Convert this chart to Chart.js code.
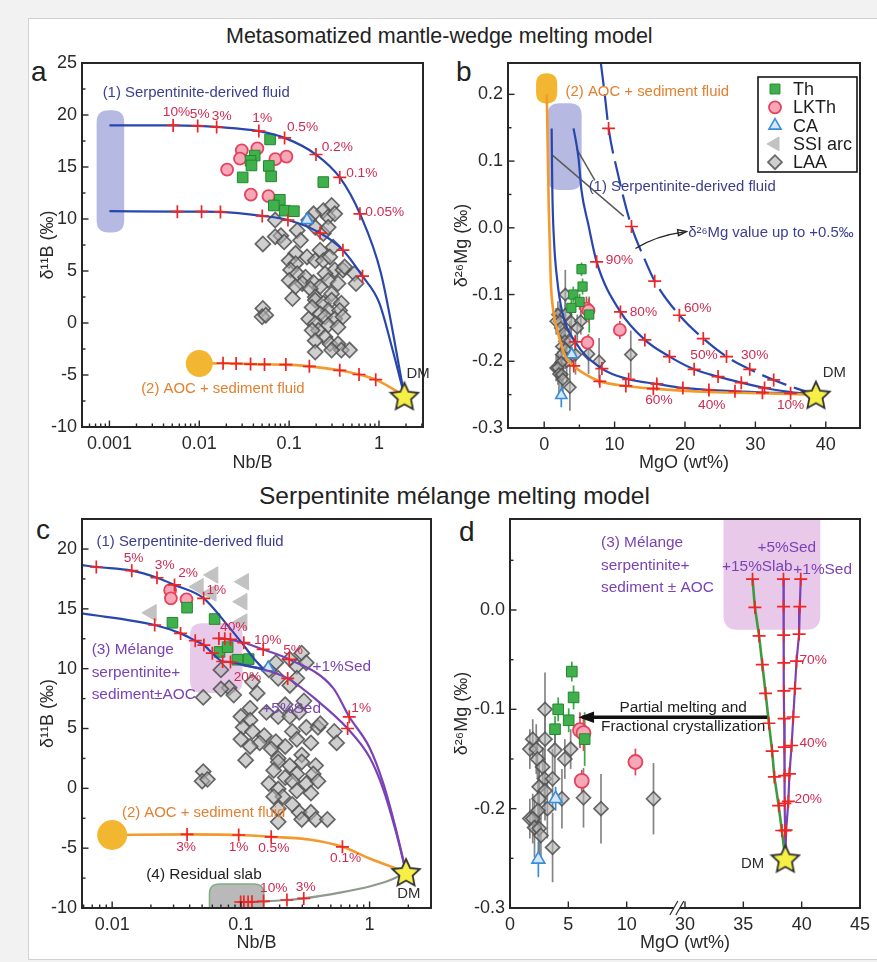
<!DOCTYPE html>
<html>
<head>
<meta charset="utf-8">
<script src="https://cdn.jsdelivr.net/npm/chart.js@4.4.0/dist/chart.umd.min.js"></script>
<style>
  body { margin:0; width:877px; height:962px; overflow:hidden; background:#f2f2f2; position:relative; font-family:"Liberation Sans", Arial, sans-serif; }
  #sheet { position:absolute; left:28px; top:18px; width:880px; height:940px; background:#fff; border:1px solid #d2d2d2; }
  canvas { position:absolute; }
  .ttl { position:absolute; color:#222; white-space:nowrap; line-height:1; }
  .let { position:absolute; font-size:28px; line-height:28px; color:#222; }
</style>
</head>
<body>
<div id="sheet"></div>
<div class="ttl" style="left:226px;top:26px;font-size:21.5px">Metasomatized mantle-wedge melting model</div>
<div class="ttl" style="left:259px;top:484px;font-size:24.5px">Serpentinite mélange melting model</div>
<div class="let" style="left:31px;top:58px">a</div>
<div class="let" style="left:456px;top:58px">b</div>
<div class="let" style="left:36px;top:516px">c</div>
<div class="let" style="left:459px;top:518px">d</div>
<canvas id="cA" width="412" height="440" style="left:28px;top:40px"></canvas>
<canvas id="cB" width="437" height="440" style="left:440px;top:40px"></canvas>
<canvas id="cC" width="420" height="482" style="left:28px;top:480px"></canvas>
<canvas id="cD" width="437" height="482" style="left:440px;top:480px"></canvas>
<script>
// ---------- data: Nb/B vs d11B (panels a and c) ----------
const DM_NBB = 1.92, DM_D11B = -7.0;
const DM_MGO = 38.6, DM_D26 = -0.25;

const laaB = [
  [0.297,11.3],[0.240,10.8],[0.187,10.5],[0.272,10.2],[0.322,10.5],[0.165,9.9],[0.070,9.9],
  [0.081,8.4],[0.070,8.3],[0.123,8.9],[0.195,9.2],[0.240,8.6],[0.272,9.2],[0.134,7.95],
  [0.051,7.6],[0.088,7.8],[0.309,7.3],[0.221,7.0],[0.158,6.35],[0.118,6.7],[0.100,6.0],
  [0.195,6.0],[0.240,6.0],[0.284,6.35],[0.118,5.7],[0.104,5.1],[0.322,5.1],[0.397,5.1],
  [0.251,4.75],[0.532,4.75],[0.414,5.4],[0.123,4.75],[0.152,4.4],[0.100,4.1],[0.140,3.8],
  [0.187,3.9],[0.272,4.1],[0.350,3.8],[0.555,3.8],[0.221,3.5],[0.172,3.3],[0.118,3.5],
  [0.195,2.5],[0.297,2.8],[0.109,2.35],[0.195,2.2],[0.240,1.9],[0.297,2.2],[0.381,1.9],
  [0.180,1.5],[0.272,1.2],[0.365,1.2],[0.221,0.9],[0.051,1.4],[0.050,0.6],[0.055,0.75],
  [0.165,0.4],[0.195,-0.06],[0.251,0.6],[0.322,0.4],[0.397,0.6],[0.272,-0.2],[0.212,-0.7],
  [0.350,-0.4],[0.180,-0.7],[0.251,-1.35],[0.195,-1.7],[0.284,-2.0],[0.350,-2.0],
  [0.195,-2.8],[0.381,-2.6],[0.470,-2.6],[0.297,-2.6]
];
const thA = [[0.0614,17.65],[0.0414,16.1],[0.0372,15.6],[0.0381,15.15],[0.0594,15.1],[0.0304,14.0],
  [0.063,14.1],[0.24,13.55],[0.0788,11.85],[0.0675,11.3],[0.0896,10.8],[0.113,10.75]];
const lkthA = [[0.0204,14.75],[0.0297,16.6],[0.0284,15.8],[0.0443,16.8],[0.0702,15.75],[0.0933,16.0],
  [0.0375,12.35],[0.0589,12.2]];
const caA = [[0.158,9.9]];
const thC = [[0.0294,13.84],[0.0382,15.1],[0.0625,14.15],[0.0683,11.4],[0.0789,11.8],[0.094,10.75],[0.115,10.8]];
const lkthC = [[0.0282,16.57],[0.0286,15.88],[0.0378,15.8]];
const caC = [[0.163,10.1]];
const ssiC = [[0.0202,14.67],[0.0468,16.85],[0.0608,17.83],[0.1054,17.27],[0.0589,16.32],[0.1024,15.6],[0.1024,13.9]];

// model curves, panel a
const aSerpHi = [[0.001,19.0],[0.00512,19.0],[0.0096,18.95],[0.0156,18.85],[0.046,18.45],[0.089,17.8],
  [0.199,16.2],[0.366,14.0],[0.614,10.5],[1.05,4.8],[DM_NBB,DM_D11B]];
const aSerpLo = [[0.001,10.75],[0.0057,10.7],[0.0106,10.7],[0.0172,10.68],[0.0502,10.3],[0.097,9.9],
  [0.221,8.65],[0.397,7.0],[0.656,4.5],[1.0,2.0],[1.4,-2.4],[DM_NBB,DM_D11B]];
const aAoc = [[0.01,-3.9],[0.0184,-3.87],[0.0257,-3.9],[0.0372,-3.95],[0.0532,-3.98],[0.092,-4.0],
  [0.168,-4.17],[0.366,-4.55],[0.60,-4.95],[0.92,-5.45],[DM_NBB,DM_D11B]];

// model curves, panel c
const cSerpHi = [[0.0058,18.66],[0.00753,18.5],[0.0142,18.19],[0.0223,17.6],[0.0305,17.0],[0.0514,15.88],
  [0.0766,13.79],[0.1025,12.11],[0.129,10.72],[0.149,10.0]];
const cSerpHiX = [[0.00753,18.5],[0.0142,18.19],[0.0223,17.6],[0.0305,17.0],[0.0514,15.88]];
const cSerpLo = [[0.0058,14.62],[0.0214,13.65],[0.034,12.95],[0.0442,12.34],[0.0516,11.97],[0.06,11.3],
  [0.0722,10.6],[0.083,10.55],[0.105,10.3],[0.149,9.95]];
const cSed1 = [[0.0675,12.53],[0.08,12.45],[0.1054,12.17],[0.149,11.61],[0.2375,10.78],[0.52,8.4],
  [0.695,5.98],[1.0,3.4],[1.27,0.5],[1.6,-3.4],[DM_NBB,DM_D11B]];
const cSed1X = [[0.0675,12.53],[0.075,12.5],[0.083,12.45],[0.1054,12.17],[0.149,11.61],[0.2375,10.78],[0.695,5.98]];
const cSed5 = [[0.105,10.3],[0.149,9.95],[0.231,9.19],[0.389,7.37],[0.675,5.0],[1.0,2.6],[1.27,0.0],
  [1.6,-3.6],[DM_NBB,DM_D11B]];
const cSed5X = [[0.231,9.19],[0.675,5.0]];
const cAoc = [[0.01,-3.9],[0.0382,-3.85],[0.0962,-3.9],[0.172,-4.05],[0.35,-4.3],[0.615,-4.89],[1.0,-5.86],[DM_NBB,DM_D11B]];
const cAocX = [[0.0382,-3.85],[0.0962,-3.9],[0.172,-4.05],[0.615,-4.89]];
const cSlab = [[0.1,-9.5],[0.15,-9.44],[0.228,-9.33],[0.308,-9.2],[0.6,-8.7],[1.0,-8.2],[1.5,-7.6],[DM_NBB,DM_D11B]];
const cSlabX = [[0.0996,-9.5],[0.1055,-9.5],[0.1138,-9.49],[0.122,-9.48],[0.15,-9.44],[0.228,-9.33],[0.308,-9.2]];

// ---------- data: MgO vs d26Mg (panels b and d), rows = [MgO, d26Mg, 2sd] ----------
const thMg = [[5.3,-0.062,0.01],[5.45,-0.088,0.012],[4.13,-0.1,0.012],[5.03,-0.111,0.012],[3.86,-0.12,0.013],[6.4,-0.13,0.027]];
const lkthMg = [[6.0,-0.121,0.018],[6.3,-0.124,0.018],[6.15,-0.172,0.011],[10.75,-0.153,0.0135]];
const caMg = [[3.91,-0.19,0.012],[2.43,-0.251,0.018]];
const laaMg = [
  [3.0,-0.100,0.037],[1.95,-0.130,0.02],[3.0,-0.130,0.025],[1.7,-0.140,0.02],[2.25,-0.140,0.025],
  [3.85,-0.141,0.025],[5.2,-0.140,0.02],[2.35,-0.150,0.02],[4.7,-0.150,0.02],[2.8,-0.158,0.02],
  [2.95,-0.170,0.03],[3.65,-0.170,0.03],[2.5,-0.178,0.025],[3.0,-0.182,0.03],[2.5,-0.190,0.03],
  [4.45,-0.190,0.03],[6.3,-0.189,0.03],[12.3,-0.190,0.036],[7.8,-0.200,0.035],[3.2,-0.200,0.03],
  [2.4,-0.202,0.03],[1.7,-0.210,0.02],[1.95,-0.210,0.025],[2.1,-0.219,0.03],[2.5,-0.220,0.03],
  [2.65,-0.227,0.025],[3.65,-0.239,0.035]
];

// model curves, panel b
const bOrange = [[0.37,0.2],[0.5,0.12],[0.65,0.03],[0.93,-0.078],[1.3,-0.125],[1.85,-0.153],[3.0,-0.193],
  [4.2,-0.207],[5.3,-0.216],[7.9,-0.23],[11.6,-0.237],[15.5,-0.241],[19.5,-0.244],[23.3,-0.246],
  [27.2,-0.247],[31,-0.248],[35,-0.249],[DM_MGO,DM_D26]];
const bOrangeX = [[4.2,-0.207],[7.9,-0.23],[11.6,-0.237],[15.5,-0.241]];
const bSerp1 = [[1.06,0.149],[1.15,0.06],[1.39,-0.018],[1.85,-0.078],[2.6,-0.128],[4.4,-0.171],[8.2,-0.211],
  [12.0,-0.227],[16.0,-0.234],[19.7,-0.24],[23.4,-0.243],[27.1,-0.245],[31,-0.247],[35,-0.248],[DM_MGO,DM_D26]];
const bSerp1X = [[4.4,-0.171],[8.2,-0.211],[12.0,-0.227],[16.0,-0.234],[19.7,-0.24],[23.4,-0.243],[27.1,-0.245],[31,-0.247],[35,-0.248]];
const bSerp2 = [[4.17,0.149],[4.86,0.106],[5.3,0.056],[6.25,0.006],[7.45,-0.051],[10.83,-0.126],[14.3,-0.168],
  [17.8,-0.193],[21.3,-0.212],[24.7,-0.223],[28.0,-0.232],[31.3,-0.24],[35,-0.246],[DM_MGO,DM_D26]];
const bSerp2X = [[7.45,-0.051],[10.83,-0.126],[14.3,-0.168],[17.8,-0.193],[21.3,-0.212],[24.7,-0.223],[28.0,-0.232],[31.3,-0.24]];
const bHeavy = [[8.0,0.251],[8.6,0.2],[9.15,0.149],[10.4,0.084],[12.4,0.002],[14.1,-0.043],[15.7,-0.08],
  [19.2,-0.131],[22.6,-0.166],[25.9,-0.193],[29.2,-0.212],[32.6,-0.228],[35.9,-0.241],[DM_MGO,DM_D26]];
const bHeavyX = [[9.15,0.149],[12.4,0.002],[15.7,-0.08],[19.2,-0.131],[22.6,-0.166],[25.9,-0.193],[29.2,-0.212],[32.6,-0.228]];
const bLeader1 = [[1.16,0.109],[11.3,0.0175]];
const bLeader2 = [[4.58,0.119],[7.2,0.071]];

// model curves, panel d
const dSlab15 = [[35.79,0.031],[35.99,0.0027],[36.35,-0.026],[36.63,-0.055],[36.91,-0.084],[37.19,-0.114],
  [37.47,-0.142],[37.66,-0.168],[38.03,-0.197],[38.30,-0.222],[DM_MGO,DM_D26]];
const dSed5 = [[38.44,0.031],[38.45,0.0034],[38.46,-0.0253],[38.47,-0.0532],[38.48,-0.0815],[38.5,-0.1094],
  [38.52,-0.138],[38.54,-0.1667],[38.56,-0.1946],[38.58,-0.2222],[DM_MGO,DM_D26]];
const dSed1 = [[39.92,0.031],[39.84,0.0034],[39.78,-0.0242],[39.56,-0.0515],[39.42,-0.0791],[39.28,-0.1077],
  [39.14,-0.1364],[38.95,-0.165],[38.86,-0.1926],[38.67,-0.2215],[DM_MGO,DM_D26]];

// ---------- ticks ----------
const A_XTICKS = [0.001, 0.01, 0.1, 1];
const C_XTICKS = [0.01, 0.1, 1];
const B11_A_YTICKS = [-10, -5, 0, 5, 10, 15, 20, 25];
const B11_C_YTICKS = [-10, -5, 0, 5, 10, 15, 20];
const MG_YTICKS_B = [-0.3, -0.2, -0.1, 0, 0.1, 0.2];
const MG_YTICKS_D = [-0.3, -0.2, -0.1, 0];
const B_XTICKS = [0, 10, 20, 30, 40];
const D_XTICKS = [0, 5, 10, 15, 20, 25, 30];
const D_XLABELS = ['0', '5', '10', '30', '35', '40', '45'];

// ---------- styles ----------
const REG = '"Liberation Sans", Arial, sans-serif';
function hasFont(f) {
  const g = document.createElement('canvas').getContext('2d');
  g.font = '20px monospace'; const w0 = g.measureText('mmmmmiiiiiWW').width;
  g.font = '20px "' + f + '", monospace'; return g.measureText('mmmmmiiiiiWW').width !== w0;
}
const NARROW = hasFont('Liberation Sans Narrow');
const nfont = px => (NARROW ? px : Math.round(px * 0.83 * 10) / 10) + 'px ' + (NARROW ? '"Liberation Sans Narrow", ' : '') + REG;
const STY = {
  pct: { font: nfont(16.5), color: '#cf2a52' },
  navy: { font: nfont(18), color: '#3b3f8e' },
  orange: { font: nfont(18), color: '#e3802f' },
  purple: { font: nfont(18.5), color: '#7b42b5' },
  black: { font: nfont(18.5), color: '#1e1e1e' },
  dark: { font: nfont(18), color: '#2e2e2e' }
};
const BLUE = '#2846ad', ORANGE = '#f29a2e', PURPLE = '#7a42b6', RED = '#ef2424';
const TH_ST = { label: 'Th', pointStyle: 'rect', pointBackgroundColor: '#3fb04b', pointBorderColor: '#22882f', pointBorderWidth: 1, errColor: '#3aa845', lr: 7 };
const LKTH_ST = { label: 'LKTh', pointStyle: 'circle', pointBackgroundColor: '#f6a8b8', pointBorderColor: '#e6425d', pointBorderWidth: 1.8, errColor: '#e6425d', lr: 6 };
const CA_ST = { label: 'CA', pointStyle: 'triangle', pointBackgroundColor: '#d5e7f7', pointBorderColor: '#3a8ddb', pointBorderWidth: 1.6, errColor: '#3a8ddb', lr: 7 };
const SSI_ST = { label: 'SSI arc', pointStyle: 'triangle', pointRotation: -90, pointBackgroundColor: '#c2c2c2', pointBorderColor: '#c2c2c2', pointBorderWidth: 1, lr: 8 };
const LAA_ST = { label: 'LAA', pointStyle: 'rectRot', pointBackgroundColor: 'rgba(175,175,175,0.6)', pointBorderColor: 'rgba(80,80,80,0.85)', pointBorderWidth: 1.7, errColor: 'rgba(120,120,120,0.9)', lr: 7 };

function makeStar(size) {
  const c = document.createElement('canvas'); c.width = c.height = size;
  const g = c.getContext('2d'), R = size / 2 - 1.5, r = R * 0.48, cx = size / 2, cy = size / 2 + 1.5;
  g.beginPath();
  for (let i = 0; i < 10; i++) {
    const a = -Math.PI / 2 + i * Math.PI / 5, rr = i % 2 ? r : R;
    g.lineTo(cx + rr * Math.cos(a), cy + rr * Math.sin(a));
  }
  g.closePath(); g.fillStyle = '#f5ef46'; g.fill(); g.lineWidth = 1.8; g.strokeStyle = '#333'; g.stroke();
  return c;
}
const STAR = makeStar(32);

const id = v => v;
const dX = v => (v > 20 ? v - 15 : v);   // broken MgO axis in panel d
const xy = (rows, tx = id) => rows.map(r => ({ x: tx(r[0]), y: r[1] }));

const curve = (rows, color, extra = {}, tx = id) => Object.assign({
  data: xy(rows, tx), showLine: true, borderColor: color, borderWidth: 2.2, pointRadius: 0,
  cubicInterpolationMode: 'monotone', order: 2
}, extra);
const crosses = (rows, tx = id) => ({
  data: xy(rows, tx), pointStyle: 'cross', pointRadius: 6.5, pointBorderColor: RED, pointBorderWidth: 1.7, order: 1
});
const pts = (rows, st, r, order, tx = id) => Object.assign({}, st, {
  data: xy(rows, tx), pointRadius: r, order: order,
  errs: rows[0].length > 2 ? rows.map(q => q[2]) : null
});
const star = (x, y) => ({ data: [{ x, y }], pointStyle: STAR, pointRadius: 16, order: 0 });
const disc = (x, y, r) => ({ data: [{ x, y }], pointStyle: 'circle', pointRadius: r, pointBackgroundColor: '#f3b630', pointBorderColor: '#f3b630', pointBorderWidth: 0, order: 1.5 });

const mids = t => t.slice(1).map((v, i) => (v + t[i]) / 2);
function logMinor(min, max) {
  const out = [];
  for (let e = -4; e <= 1; e++) for (let k = 2; k <= 9; k++) {
    const v = k * Math.pow(10, e);
    if (v > min && v < max) out.push(v);
  }
  return out;
}

function rrect(ctx, x, y, w, h, r) {
  r = Math.min(r, w / 2, h / 2);
  ctx.beginPath();
  ctx.moveTo(x + r, y); ctx.lineTo(x + w - r, y); ctx.quadraticCurveTo(x + w, y, x + w, y + r);
  ctx.lineTo(x + w, y + h - r); ctx.quadraticCurveTo(x + w, y + h, x + w - r, y + h);
  ctx.lineTo(x + r, y + h); ctx.quadraticCurveTo(x, y + h, x, y + h - r);
  ctx.lineTo(x, y + r); ctx.quadraticCurveTo(x, y, x + r, y); ctx.closePath();
}

// fields, error bars, frame, inner ticks, text and legend
const deco = {
  id: 'deco',
  beforeDatasetsDraw(chart, args, o) {
    const { ctx, chartArea: ca, scales: { x, y } } = chart;
    const tx = o.tx || id;
    ctx.save();
    ctx.beginPath(); ctx.rect(ca.left, ca.top, ca.width, ca.height); ctx.clip();
    (o.regions || []).forEach(r => {
      const x0 = x.getPixelForValue(tx(r.x0)), x1 = x.getPixelForValue(tx(r.x1));
      const y0 = y.getPixelForValue(r.y1), y1 = y.getPixelForValue(r.y0);
      rrect(ctx, x0, y0, x1 - x0, y1 - y0, r.r);
      ctx.fillStyle = r.fill; ctx.fill();
      if (r.stroke) { ctx.strokeStyle = r.stroke; ctx.lineWidth = 1.5; ctx.stroke(); }
    });
    chart.data.datasets.forEach(ds => {
      if (!ds.errs) return;
      ctx.strokeStyle = ds.errColor; ctx.lineWidth = 1.7;
      ds.data.forEach((p, j) => {
        const px = x.getPixelForValue(p.x);
        ctx.beginPath();
        ctx.moveTo(px, y.getPixelForValue(p.y - ds.errs[j]));
        ctx.lineTo(px, y.getPixelForValue(p.y + ds.errs[j]));
        ctx.stroke();
      });
    });
    ctx.restore();
  },
  afterDatasetsDraw(chart, args, o) {
    const { ctx, chartArea: ca, scales: { x, y } } = chart;
    const tx = o.tx || id;
    ctx.save();
    (o.arrows || []).forEach(a => {
      const p = a.pts.map(q => [x.getPixelForValue(tx(q[0])), y.getPixelForValue(q[1])]);
      ctx.strokeStyle = a.color; ctx.fillStyle = a.color; ctx.lineWidth = a.w;
      ctx.beginPath(); ctx.moveTo(p[0][0], p[0][1]);
      if (p.length === 3) ctx.quadraticCurveTo(p[1][0], p[1][1], p[2][0], p[2][1]);
      else ctx.lineTo(p[1][0], p[1][1]);
      ctx.stroke();
      const e = p[p.length - 1], s = p[p.length - 2];
      const ang = Math.atan2(e[1] - s[1], e[0] - s[0]);
      ctx.beginPath();
      ctx.moveTo(e[0] + Math.cos(ang) * a.head * 0.3, e[1] + Math.sin(ang) * a.head * 0.3);
      ctx.lineTo(e[0] - Math.cos(ang - 0.45) * a.head, e[1] - Math.sin(ang - 0.45) * a.head);
      ctx.lineTo(e[0] - Math.cos(ang + 0.45) * a.head, e[1] - Math.sin(ang + 0.45) * a.head);
      ctx.closePath();
      if (a.open) ctx.stroke(); else ctx.fill();
    });
    ctx.strokeStyle = '#262626'; ctx.lineWidth = 2;
    ctx.strokeRect(ca.left, ca.top, ca.width, ca.height);
    ctx.lineWidth = 1.4;
    [[o.xMajor, 6.5], [o.xMinor, 3.5]].forEach(([vals, len]) => (vals || []).forEach(v => {
      const px = x.getPixelForValue(v);
      ctx.beginPath(); ctx.moveTo(px, ca.bottom); ctx.lineTo(px, ca.bottom - len); ctx.stroke();
    }));
    [[o.yMajor, 6.5], [o.yMinor, 3.5]].forEach(([vals, len]) => (vals || []).forEach(v => {
      const py = y.getPixelForValue(v);
      ctx.beginPath(); ctx.moveTo(ca.left, py); ctx.lineTo(ca.left + len, py); ctx.stroke();
    }));
    if (o.xBreak !== undefined) {
      const bx = x.getPixelForValue(o.xBreak);
      ctx.fillStyle = '#fff'; ctx.fillRect(bx - 3, ca.bottom - 2, 6, 4);
      ctx.strokeStyle = '#2a2a2a'; ctx.lineWidth = 1.2;
      [-3, 3].forEach(d => {
        ctx.beginPath(); ctx.moveTo(bx + d - 4, ca.bottom + 7); ctx.lineTo(bx + d + 4, ca.bottom - 7); ctx.stroke();
      });
    }
    (o.labels || []).forEach(([t, lx, ly, st, al]) => {
      const s = STY[st];
      ctx.font = s.font; ctx.fillStyle = s.color;
      ctx.textAlign = al === 'l' ? 'left' : 'center'; ctx.textBaseline = 'middle';
      ctx.fillText(t, x.getPixelForValue(tx(lx)), y.getPixelForValue(ly));
    });
    if (o.legend) {
      const L = o.legend, bx = ca.left + L.dx, by = ca.top + L.dy;
      ctx.fillStyle = '#fff'; ctx.fillRect(bx, by, L.w, L.h);
      ctx.strokeStyle = '#151515'; ctx.lineWidth = 1.6; ctx.strokeRect(bx, by, L.w, L.h);
      L.items.forEach((it, i) => {
        const cy = by + L.y0 + i * L.step;
        ctx.fillStyle = it.pointBackgroundColor; ctx.strokeStyle = it.pointBorderColor; ctx.lineWidth = it.pointBorderWidth;
        Chart.helpers.drawPoint(ctx, { pointStyle: it.pointStyle, radius: it.lr, rotation: it.pointRotation || 0, borderWidth: it.pointBorderWidth }, bx + L.mx, cy);
        ctx.fillStyle = '#1e1e1e'; ctx.font = '18px ' + REG; ctx.textAlign = 'left'; ctx.textBaseline = 'middle';
        ctx.fillText(it.label, bx + L.tx, cy + 1);
      });
    }
    ctx.restore();
  }
};

function panel(elId, cfg) {
  const zeroPad = s => { s.paddingLeft = s.paddingRight = s.paddingTop = s.paddingBottom = 0; };
  const tickFont = { family: REG, size: 18 };
  return new Chart(document.getElementById(elId), {
    type: 'scatter',
    data: { datasets: cfg.datasets },
    options: {
      responsive: false, animation: false, devicePixelRatio: 1, events: [],
      layout: { padding: { left: 0, top: cfg.padTop, right: cfg.padRight, bottom: 0 } },
      plugins: { legend: { display: false }, tooltip: { enabled: false }, deco: cfg.deco },
      scales: {
        x: {
          type: cfg.xType, min: cfg.xMin, max: cfg.xMax,
          afterBuildTicks: s => { s.ticks = cfg.xTicks.map(v => ({ value: v })); },
          afterFit: s => { s.height = cfg.xH; zeroPad(s); },
          grid: { display: false, drawTicks: false }, border: { display: false },
          ticks: { font: tickFont, color: '#2a2a2a', padding: 6, maxRotation: 0, autoSkip: false, callback: cfg.xFmt },
          title: { display: true, text: cfg.xTitle, font: { family: REG, size: 18 }, color: '#2a2a2a', padding: { top: 0, bottom: cfg.xTitlePad } }
        },
        y: {
          type: 'linear', min: cfg.yMin, max: cfg.yMax,
          afterBuildTicks: s => { s.ticks = cfg.yTicks.map(v => ({ value: v })); },
          afterFit: s => { s.width = cfg.yW; zeroPad(s); },
          grid: { display: false, drawTicks: false }, border: { display: false },
          ticks: { font: tickFont, color: '#2a2a2a', padding: 5, autoSkip: false, callback: cfg.yFmt },
          title: { display: true, text: cfg.yTitle, font: { family: REG, size: 18 }, color: '#2a2a2a', padding: { top: cfg.yTitlePad, bottom: 0 } }
        }
      }
    },
    plugins: [deco]
  });
}

const fmtPlain = v => String(v);
const fmt1 = v => (Math.abs(v) < 1e-9 ? '0.0' : v.toFixed(1));

// ---------- panel a ----------
const A_XMIN = 0.000495, A_XMAX = 3.09;
panel('cA', {
  xType: 'logarithmic', xMin: A_XMIN, xMax: A_XMAX, xTicks: A_XTICKS, xFmt: fmtPlain,
  yMin: -10, yMax: 25, yTicks: B11_A_YTICKS, yFmt: fmtPlain,
  padTop: 23, padRight: 10, yW: 54, xH: 53, xTitlePad: 6, yTitlePad: 9,
  xTitle: 'Nb/B', yTitle: 'δ¹¹B (‰)',
  datasets: [
    star(DM_NBB, DM_D11B),
    crosses(aSerpHi.slice(1, -2)), crosses(aSerpLo.slice(1, -3)), crosses(aAoc.slice(1, -1)),
    curve(aSerpHi, BLUE), curve(aSerpLo, BLUE), curve(aAoc, ORANGE, { borderWidth: 2.6 }),
    disc(0.01, -3.9, 13.5),
    pts(caA, CA_ST, 7, 3), pts(thA, TH_ST, 7.5, 4), pts(lkthA, LKTH_ST, 6, 5), pts(laaB, LAA_ST, 7.5, 6)
  ],
  deco: {
    regions: [{ x0: 0.00072, x1: 0.00146, y0: 8.7, y1: 20.45, r: 12, fill: '#b6bae3' }],
    xMajor: A_XTICKS, xMinor: logMinor(A_XMIN, A_XMAX), yMajor: B11_A_YTICKS, yMinor: mids(B11_A_YTICKS),
    labels: [
      ['(1) Serpentinite-derived fluid', 0.00084, 22.1, 'navy', 'l'],
      ['10%', 0.00558, 20.3, 'pct'], ['5%', 0.0101, 20.07, 'pct'], ['3%', 0.01775, 19.87, 'pct'],
      ['1%', 0.0502, 19.65, 'pct'], ['0.5%', 0.141, 18.8, 'pct'], ['0.2%', 0.343, 16.9, 'pct'],
      ['0.1%', 0.643, 14.4, 'pct'], ['0.05%', 1.16, 10.64, 'pct'],
      ['(2) AOC + sediment fluid', 0.0183, -6.31, 'orange'],
      ['DM', 2.72, -4.87, 'dark']
    ]
  }
});

// ---------- panel b ----------
panel('cB', {
  xType: 'linear', xMin: -5.14, xMax: 44.86, xTicks: B_XTICKS, xFmt: fmtPlain,
  yMin: -0.3, yMax: 0.247, yTicks: MG_YTICKS_B, yFmt: fmt1,
  padTop: 23, padRight: 9, yW: 68, xH: 52, xTitlePad: 6, yTitlePad: 11,
  xTitle: 'MgO (wt%)', yTitle: 'δ²⁶Mg (‰)',
  datasets: [
    star(DM_MGO, DM_D26),
    crosses(bOrangeX), crosses(bSerp1X), crosses(bSerp2X), crosses(bHeavyX),
    curve(bOrange, ORANGE, { borderWidth: 2.6 }), curve(bSerp1, BLUE), curve(bSerp2, BLUE),
    curve(bHeavy, BLUE, { borderDash: [26, 8] }),
    curve(bLeader1, '#5a5a5a', { borderWidth: 1.5, cubicInterpolationMode: 'default', tension: 0, order: 3 }),
    curve(bLeader2, '#5a5a5a', { borderWidth: 1.5, cubicInterpolationMode: 'default', tension: 0, order: 3 }),
    pts(caMg, CA_ST, 6.5, 3), pts(thMg, TH_ST, 6.5, 4), pts(lkthMg, LKTH_ST, 6, 5), pts(laaMg, LAA_ST, 6, 6)
  ],
  deco: {
    regions: [
      { x0: 0.46, x1: 5.32, y0: 0.0565, y1: 0.1865, r: 12, fill: '#b6bae3' },
      { x0: -1.15, x1: 1.85, y0: 0.1865, y1: 0.2315, r: 11, fill: '#f3b630' }
    ],
    xMajor: B_XTICKS, xMinor: mids(B_XTICKS), yMajor: MG_YTICKS_B, yMinor: mids(MG_YTICKS_B),
    arrows: [{ pts: [[12.96, -0.031], [15.8, -0.012], [19.9, -0.006]], color: '#222', w: 1.4, head: 7, open: true }],
    labels: [
      ['(2) AOC + sediment fluid', 14.65, 0.2034, 'orange'],
      ['(1) Serpentinite-derived fluid', 19.6, 0.061, 'navy'],
      ['δ²⁶Mg value up to +0.5‰', 32.2, -0.008, 'navy'],
      ['90%', 10.7, -0.048, 'pct'], ['80%', 14.1, -0.127, 'pct'], ['60%', 21.8, -0.121, 'pct'],
      ['50%', 22.7, -0.191, 'pct'], ['30%', 29.9, -0.191, 'pct'], ['60%', 16.3, -0.258, 'pct'],
      ['40%', 23.8, -0.266, 'pct'], ['10%', 35.0, -0.266, 'pct'],
      ['DM', 41.2, -0.218, 'dark']
    ],
    legend: { dx: 250, dy: 14, w: 99, h: 95, mx: 17, tx: 35, y0: 12, step: 18.3, items: [TH_ST, LKTH_ST, CA_ST, SSI_ST, LAA_ST] }
  }
});

// ---------- panel c ----------
const C_XMIN = 0.00583, C_XMAX = 3.0;
panel('cC', {
  xType: 'logarithmic', xMin: C_XMIN, xMax: C_XMAX, xTicks: C_XTICKS, xFmt: fmtPlain,
  yMin: -10, yMax: 22.51, yTicks: B11_C_YTICKS, yFmt: fmtPlain,
  padTop: 39, padRight: 7, yW: 54, xH: 54, xTitlePad: 8, yTitlePad: 9,
  xTitle: 'Nb/B', yTitle: 'δ¹¹B (‰)',
  datasets: [
    star(DM_NBB, DM_D11B),
    crosses(cSerpHiX), crosses(cSerpLo.slice(1, -2)), crosses(cSed1X), crosses(cSed5X), crosses(cAocX), crosses(cSlabX),
    curve(cSerpHi, BLUE), curve(cSerpLo, BLUE), curve(cSed1, PURPLE), curve(cSed5, PURPLE),
    curve(cAoc, ORANGE, { borderWidth: 2.6 }), curve(cSlab, '#8f9a8f'),
    disc(0.01, -3.9, 15),
    pts(caC, CA_ST, 6.5, 3), pts(thC, TH_ST, 7.5, 4), pts(lkthC, LKTH_ST, 6, 5), pts(ssiC, SSI_ST, 9.5, 6), pts(laaB, LAA_ST, 7.5, 7)
  ],
  deco: {
    regions: [
      { x0: 0.0403, x1: 0.103, y0: 7.96, y1: 13.8, r: 12, fill: '#e9c9e9' },
      { x0: 0.057, x1: 0.151, y0: -10.8, y1: -8.0, r: 10, fill: '#b9b9b9', stroke: '#7fae7f' }
    ],
    xMajor: C_XTICKS, xMinor: logMinor(C_XMIN, C_XMAX), yMajor: B11_C_YTICKS, yMinor: mids(B11_C_YTICKS),
    labels: [
      ['(1) Serpentinite-derived fluid', 0.00757, 20.59, 'navy', 'l'],
      ['5%', 0.01466, 19.25, 'pct'], ['3%', 0.0256, 18.66, 'pct'], ['2%', 0.0389, 17.99, 'pct'], ['1%', 0.0644, 16.57, 'pct'],
      ['40%', 0.0881, 13.48, 'pct'], ['10%', 0.1618, 12.39, 'pct'], ['5%', 0.2546, 11.56, 'pct'],
      ['20%', 0.1125, 9.3, 'pct'], ['1%', 0.861, 6.7, 'pct'],
      ['(3) Mélange', 0.00693, 11.56, 'purple', 'l'], ['serpentinite+', 0.00693, 9.63, 'purple', 'l'],
      ['sediment±AOC', 0.00693, 7.79, 'purple', 'l'],
      ['+1%Sed', 0.608, 10.13, 'purple'], ['+5%Sed', 0.248, 6.62, 'purple'],
      ['(2) AOC + sediment fluid', 0.01191, -2.07, 'orange', 'l'],
      ['3%', 0.0375, -4.92, 'pct'], ['1%', 0.0961, -4.92, 'pct'], ['0.5%', 0.18, -5.0, 'pct'], ['0.1%', 0.652, -5.84, 'pct'],
      ['(4) Residual slab', 0.0184, -7.26, 'black', 'l'],
      ['10%', 0.18, -8.35, 'pct'], ['3%', 0.319, -8.26, 'pct'],
      ['DM', 2.02, -8.85, 'dark']
    ]
  }
});

// ---------- panel d ----------
panel('cD', {
  xType: 'linear', xMin: 0, xMax: 30, xTicks: D_XTICKS, xFmt: (v, i) => D_XLABELS[i],
  yMin: -0.3, yMax: 0.0916, yTicks: MG_YTICKS_D, yFmt: fmt1,
  padTop: 39, padRight: 9, yW: 70, xH: 54, xTitlePad: 8, yTitlePad: 11,
  xTitle: 'MgO (wt%)', yTitle: 'δ²⁶Mg (‰)',
  datasets: [
    star(dX(DM_MGO), DM_D26),
    crosses(dSlab15.slice(0, -1), dX), crosses(dSed5.slice(0, -1), dX), crosses(dSed1.slice(0, -1), dX),
    curve(dSlab15, '#3f9a3f', { borderWidth: 2.6, cubicInterpolationMode: 'default', tension: 0 }, dX),
    curve(dSed5, PURPLE, { cubicInterpolationMode: 'default', tension: 0 }, dX),
    curve(dSed1, PURPLE, { cubicInterpolationMode: 'default', tension: 0 }, dX),
    pts(caMg, CA_ST, 7.5, 3, dX), pts(thMg, TH_ST, 7.5, 4, dX), pts(lkthMg, LKTH_ST, 7, 5, dX), pts(laaMg, LAA_ST, 7, 6, dX)
  ],
  deco: {
    tx: dX,
    regions: [{ x0: 33.3, x1: 41.6, y0: -0.02, y1: 0.12, r: 14, fill: '#e9c9e9' }],
    xMajor: D_XTICKS, yMajor: MG_YTICKS_D, yMinor: mids(MG_YTICKS_D).concat([0.05]), xBreak: 14.3,
    arrows: [{ pts: [[37.05, -0.108], [6.2, -0.108]], color: '#111', w: 3.5, head: 13 }],
    labels: [
      ['(3) Mélange', 7.8, 0.0675, 'purple', 'l'], ['serpentinite+', 7.8, 0.0443, 'purple', 'l'],
      ['sediment ± AOC', 7.8, 0.0222, 'purple', 'l'],
      ['+5%Sed', 38.72, 0.0624, 'purple'], ['+15%Slab', 36.2, 0.0433, 'purple'], ['+1%Sed', 41.8, 0.0403, 'purple'],
      ['70%', 40.98, -0.0504, 'pct'], ['40%', 40.98, -0.134, 'pct'], ['20%', 40.57, -0.191, 'pct'],
      ['Partial melting and', 29.84, -0.0987, 'black'], ['Fractional crystallization', 29.84, -0.118, 'black'],
      ['DM', 35.79, -0.256, 'dark']
    ]
  }
});
</script>
</body>
</html>
